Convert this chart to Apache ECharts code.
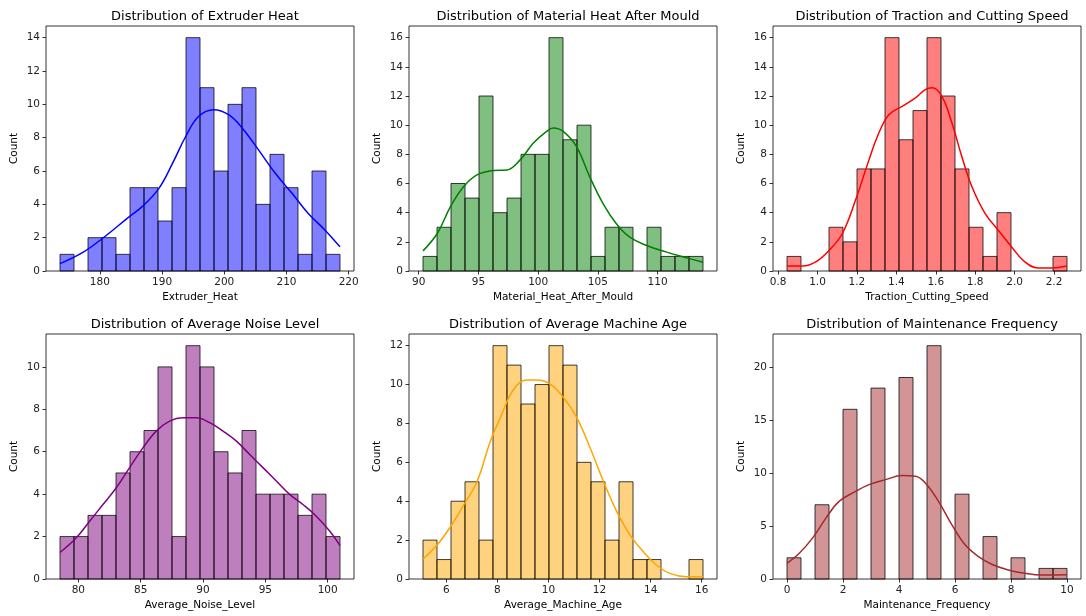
<!DOCTYPE html>
<html>
<head>
<meta charset="utf-8">
<script src="https://cdn.jsdelivr.net/npm/echarts@6/dist/echarts.min.js"></script>
<style>
html, body { margin: 0; padding: 0; background: #fff; }
#chart { width: 1086px; height: 616px; }
</style>
</head>
<body>
<div id="chart"></div>
<script>
// histogram counts (20 bins each), first bin edge and bin width
const heatCounts = [1, 0, 2, 2, 1, 5, 5, 3, 5, 14, 11, 6, 10, 11, 4, 7, 5, 1, 6, 1]
const heatStart = 173.6
const heatWidth = 2.25
const heatKde = [[173.6, 0.44], [177.2, 1.1], [180.4, 1.95], [184.7, 3.25], [186.8, 3.86], [189.5, 4.96],
  [191.7, 6.47], [193.8, 8.07], [195.9, 9.28], [198.3, 9.68], [200.7, 9.38], [202.9, 8.57], [205.5, 7.27],
  [208.2, 5.86], [210.9, 4.66], [213.5, 3.45], [216.2, 2.45], [218.6, 1.45]]
const heatXTicks = [180, 190, 200, 210, 220]
const heatYTicks = [0, 2, 4, 6, 8, 10, 12, 14]

const mouldCounts = [1, 3, 6, 5, 12, 4, 5, 8, 8, 16, 9, 10, 1, 3, 3, 0, 3, 1, 1, 1]
const mouldStart = 90.36
const mouldWidth = 1.172
const mouldKde = [[90.36, 1.38], [91.55, 2.57], [92.66, 4.41], [93.77, 5.79], [94.88, 6.59], [96.27, 6.89],
  [97.38, 6.93], [98.49, 7.62], [99.6, 8.77], [100.71, 9.57], [101.26, 9.8], [102.09, 9.57], [103.2, 8.54],
  [104.31, 6.47], [105.42, 4.64], [106.53, 3.26], [107.64, 2.34], [109.03, 1.77], [110.69, 1.31],
  [112.36, 0.92], [113.8, 0.6]]
const mouldXTicks = [90, 95, 100, 105, 110]
const mouldYTicks = [0, 2, 4, 6, 8, 10, 12, 14, 16]

const speedCounts = [1, 0, 0, 3, 2, 7, 7, 16, 9, 11, 16, 12, 7, 3, 1, 4, 0, 0, 0, 1]
const speedStart = 0.845
const speedWidth = 0.07105
const speedKde = [[0.845, 0.34], [0.924, 0.34], [0.991, 0.62], [1.059, 1.42], [1.126, 2.57], [1.193, 4.87],
  [1.261, 7.62], [1.311, 9.46], [1.362, 10.72], [1.429, 11.29], [1.497, 11.87], [1.547, 12.44],
  [1.581, 12.56], [1.631, 11.98], [1.682, 10.15], [1.732, 7.85], [1.783, 5.79], [1.85, 3.95],
  [1.917, 2.8], [1.985, 1.65], [2.052, 0.62], [2.119, 0.21], [2.187, 0.21], [2.266, 0.34]]
const speedXTicks = [0.8, 1.0, 1.2, 1.4, 1.6, 1.8, 2.0, 2.2]
const speedYTicks = [0, 2, 4, 6, 8, 10, 12, 14, 16]

const noiseCounts = [2, 2, 3, 3, 5, 6, 7, 10, 2, 11, 10, 6, 5, 7, 4, 4, 4, 3, 4, 2]
const noiseStart = 78.53
const noiseWidth = 1.123
const noiseKde = [[78.53, 1.25], [79.82, 1.93], [80.89, 2.71], [81.96, 3.5], [83.03, 4.29], [84.1, 5.24],
  [85.18, 6.18], [86.25, 6.97], [87.32, 7.44], [88.39, 7.6], [89.47, 7.6], [90.54, 7.37], [91.61, 6.97],
  [92.68, 6.5], [93.75, 5.87], [94.83, 5.24], [95.9, 4.61], [96.97, 3.98], [98.04, 3.5], [99.11, 2.95],
  [100.19, 2.24], [100.99, 1.58]]
const noiseXTicks = [80, 85, 90, 95, 100]
const noiseYTicks = [0, 2, 4, 6, 8, 10]

const ageCounts = [2, 1, 4, 5, 2, 12, 11, 9, 10, 12, 11, 6, 5, 2, 5, 1, 1, 0, 0, 1]
const ageStart = 5.09
const ageWidth = 0.548
const ageKde = [[5.09, 1.03], [5.65, 1.76], [6.17, 2.7], [6.69, 3.82], [7.21, 5.03], [7.73, 7.1],
  [8.12, 8.3], [8.64, 9.76], [9.16, 10.23], [9.55, 10.23], [10.07, 10.02], [10.59, 9.33], [11.11, 8.3],
  [11.63, 6.75], [12.15, 5.03], [12.67, 3.48], [13.19, 2.27], [13.71, 1.41], [14.23, 0.72],
  [14.75, 0.29], [15.4, 0.12], [16.05, 0.12]]
const ageXTicks = [6, 8, 10, 12, 14, 16]
const ageYTicks = [0, 2, 4, 6, 8, 10, 12]

const maintCounts = [2, 0, 7, 0, 16, 0, 18, 0, 19, 0, 22, 0, 8, 0, 4, 0, 2, 0, 1, 1]
const maintStart = 0
const maintWidth = 0.5
const maintKde = [[0, 1.48], [0.44, 2.43], [0.91, 3.85], [1.39, 5.74], [1.86, 7.32], [2.45, 8.26],
  [2.93, 8.9], [3.52, 9.37], [4.11, 9.75], [4.59, 9.68], [4.94, 9.05], [5.41, 7.32], [5.89, 5.11],
  [6.36, 3.22], [6.84, 2.11], [7.31, 1.39], [7.9, 0.85], [8.5, 0.54], [9.09, 0.38], [10, 0.4]]
const maintXTicks = [0, 2, 4, 6, 8, 10]
const maintYTicks = [0, 5, 10, 15, 20]

const panels = [
  { title: 'Distribution of Extruder Heat', xName: 'Extruder_Heat', counts: heatCounts, start: heatStart, width: heatWidth, kde: heatKde, xTicks: heatXTicks, yTicks: heatYTicks, fill: 'rgba(0,0,255,0.5)', line: '#0000ff' },
  { title: 'Distribution of Material Heat After Mould', xName: 'Material_Heat_After_Mould', counts: mouldCounts, start: mouldStart, width: mouldWidth, kde: mouldKde, xTicks: mouldXTicks, yTicks: mouldYTicks, fill: 'rgba(0,128,0,0.5)', line: '#008000' },
  { title: 'Distribution of Traction and Cutting Speed', xName: 'Traction_Cutting_Speed', counts: speedCounts, start: speedStart, width: speedWidth, kde: speedKde, xTicks: speedXTicks, yTicks: speedYTicks, fill: 'rgba(255,0,0,0.5)', line: '#ff0000' },
  { title: 'Distribution of Average Noise Level', xName: 'Average_Noise_Level', counts: noiseCounts, start: noiseStart, width: noiseWidth, kde: noiseKde, xTicks: noiseXTicks, yTicks: noiseYTicks, fill: 'rgba(128,0,128,0.5)', line: '#800080' },
  { title: 'Distribution of Average Machine Age', xName: 'Average_Machine_Age', counts: ageCounts, start: ageStart, width: ageWidth, kde: ageKde, xTicks: ageXTicks, yTicks: ageYTicks, fill: 'rgba(255,165,0,0.5)', line: '#ffa500' },
  { title: 'Distribution of Maintenance Frequency', xName: 'Maintenance_Frequency', counts: maintCounts, start: maintStart, width: maintWidth, kde: maintKde, xTicks: maintXTicks, yTicks: maintYTicks, fill: 'rgba(165,42,42,0.5)', line: '#a52a2a' },
]

const lefts = [46, 409, 773]
const tops = [26, 334]
const gw = 308
const gh = 245
const font = 'DejaVu Sans'

function histRender(fill) {
  return function (params, api) {
    const p0 = api.coord([api.value(0), api.value(2)])
    const p1 = api.coord([api.value(1), 0])
    return {
      type: 'rect',
      shape: { x: p0[0], y: p0[1], width: p1[0] - p0[0], height: p1[1] - p0[1] },
      style: { fill: fill, stroke: 'rgba(0,0,0,0.75)', lineWidth: 1 }
    }
  }
}

const option = { animation: false, title: [], grid: [], xAxis: [], yAxis: [], series: [] }

panels.forEach((p, i) => {
  const left = lefts[i % 3]
  const top = tops[Math.floor(i / 3)]
  const span = p.width * p.counts.length
  const bins = []
  p.counts.forEach((c, k) => {
    if (c > 0) bins.push([p.start + k * p.width, p.start + (k + 1) * p.width, c])
  })
  option.title.push({
    text: p.title, left: left + gw / 2, top: top - 21, textAlign: 'center',
    textStyle: { fontFamily: font, fontSize: 13, fontWeight: 'normal', color: '#000' }
  })
  option.grid.push({ left: left, top: top, width: gw, height: gh, show: true, borderColor: '#000', borderWidth: 0.8, backgroundColor: 'transparent' })
  option.xAxis.push({
    type: 'value', gridIndex: i,
    min: p.start - span * 0.05, max: p.start + span * 1.05,
    name: p.xName, nameLocation: 'middle', nameGap: 21,
    nameTextStyle: { fontFamily: font, fontSize: 10.5, color: '#000' },
    splitLine: { show: false },
    axisLine: { show: false, onZero: false },
    axisTick: { show: true, length: 3.5, lineStyle: { color: '#000', width: 0.8 }, customValues: p.xTicks },
    axisLabel: { fontFamily: font, fontSize: 10.5, color: '#222', margin: 6, customValues: p.xTicks,
      formatter: v => (p.xTicks.some(t => t % 1 !== 0) ? v.toFixed(1) : String(v)) }
  })
  option.yAxis.push({
    type: 'value', gridIndex: i,
    min: 0, max: Math.max(...p.counts) * 1.05,
    name: 'Count', nameLocation: 'middle', nameGap: 26, nameRotate: 90,
    nameTextStyle: { fontFamily: font, fontSize: 10.5, color: '#000' },
    splitLine: { show: false },
    axisLine: { show: false, onZero: false },
    axisTick: { show: true, length: 3.5, lineStyle: { color: '#000', width: 0.8 }, customValues: p.yTicks },
    axisLabel: { fontFamily: font, fontSize: 10.5, color: '#222', margin: 6, customValues: p.yTicks }
  })
  option.series.push({
    type: 'custom', xAxisIndex: i, yAxisIndex: i,
    renderItem: histRender(p.fill),
    encode: { x: [0, 1], y: 2 },
    data: bins
  })
  option.series.push({
    type: 'line', xAxisIndex: i, yAxisIndex: i,
    data: p.kde, smooth: 0.4, showSymbol: false,
    lineStyle: { color: p.line, width: 1.5 }
  })
})

const chart = echarts.init(document.getElementById('chart'))
chart.setOption(option)
</script>
</body>
</html>
